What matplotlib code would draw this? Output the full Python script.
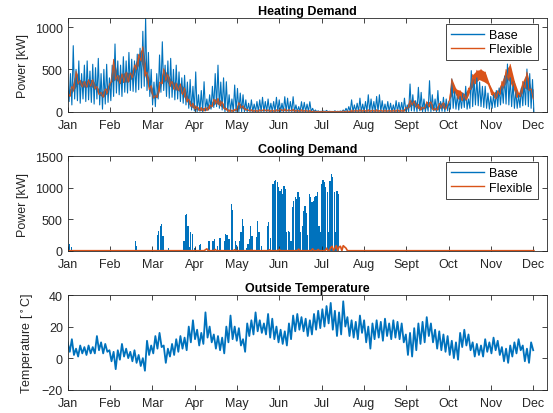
import numpy as np
import matplotlib
matplotlib.use('Agg')
import matplotlib.pyplot as plt
from matplotlib.lines import Line2D

plt.rcParams['font.family'] = ['Liberation Sans', 'DejaVu Sans']

# ---------------- data ----------------
months = ['Jan', 'Feb', 'Mar', 'Apr', 'May', 'Jun', 'Jul', 'Aug', 'Sept', 'Oct', 'Nov', 'Dec']

# Heating demand, Base: highs on even days, lows on odd days (kW), one row per month
base_step = 2.0
heat_base_hi = [300, 450, 780, 500, 600, 450, 550, 600, 480, 560, 520, 630, 450, 500, 560,
                400, 550, 800, 600, 550, 650, 600, 700, 620, 600, 680, 750, 950, 1100, 700,
                500, 350, 450, 670, 826, 550, 600, 630, 500, 550, 470, 400, 430, 350, 380,
                300, 470, 200, 250, 354, 150, 200, 300, 450, 550, 350, 400, 354, 200, 150,
                315, 275, 220, 200, 140, 100, 140, 90, 120, 140, 170, 120, 150, 100, 120,
                170, 140, 100, 177, 160, 120, 177, 80, 60, 118, 110, 90, 118, 40, 20,
                10, 5, 8, 15, 5, 3, 10, 5, 8, 20, 40, 60, 140, 80, 100,
                160, 90, 120, 200, 150, 120, 180, 200, 130, 90, 120, 100, 80, 130, 110,
                110, 160, 80, 327, 200, 130, 288, 228, 150, 100, 366, 200, 150, 250, 120,
                170, 150, 120, 386, 250, 200, 180, 220, 300, 150, 485, 380, 400, 350, 300,
                300, 220, 180, 200, 250, 280, 300, 420, 563, 400, 350, 250, 200, 280, 350,
                504, 450, 380]
heat_base_lo = [120, 80, 150, 130, 100, 150, 120, 140, 110, 90, 150, 80, 30, 90, 110,
                130, 180, 220, 200, 180, 230, 220, 250, 240, 230, 260, 280, 300, 250, 180,
                80, 60, 150, 230, 250, 180, 160, 170, 140, 150, 120, 100, 80, 40, 20,
                10, 0, 5, 0, 10, 20, 30, 50, 60, 40, 20, 0, 0, 5, 0,
                0, 0, 0, 0, 0, 0, 0, 0, 0, 0, 0, 0, 0, 0, 0,
                0, 0, 0, 0, 0, 0, 0, 0, 0, 0, 0, 0, 0, 0, 0,
                0, 0, 0, 0, 0, 0, 0, 0, 0, 0, 0, 0, 0, 0, 0,
                0, 0, 0, 0, 0, 0, 0, 0, 0, 0, 0, 0, 0, 0, 0,
                0, 5, 0, 10, 5, 0, 10, 0, 0, 5, 0, 10, 0, 0, 5,
                0, 10, 30, 40, 30, 20, 40, 50, 30, 40, 60, 80, 70, 60, 50,
                40, 30, 40, 50, 60, 80, 100, 90, 80, 60, 40, 40, 50, 70, 80,
                60, 40, 0]

# Heating demand, Flexible: upper / lower edge of the band every 3 days (kW)
band_step = 3.0
heat_flex_hi = [240, 300, 480, 370, 360, 380, 380, 300, 230, 270,
                330, 620, 430, 450, 470, 460, 550, 680, 770, 470,
                310, 190, 350, 510, 440, 360, 340, 330, 280, 150,
                100, 60, 50, 50, 80, 150, 160, 120, 40, 25,
                30, 110, 70, 30, 25, 20, 25, 30, 25, 20,
                25, 30, 35, 25, 30, 20, 25, 20, 15, 10,
                5, 5, 5, 5, 5, 5, 10, 10, 20, 20,
                25, 20, 25, 20, 25, 20, 20, 20, 20, 25,
                20, 50, 140, 130, 90, 50, 120, 120, 40, 100,
                110, 80, 390, 270, 250, 210, 280, 440, 490, 500,
                470, 330, 230, 250, 360, 500, 560, 360, 220, 360,
                470, 270]
heat_flex_lo = [180, 260, 330, 290, 290, 300, 270, 200, 170, 220,
                350, 380, 330, 350, 350, 400, 500, 600, 420, 260,
                160, 170, 330, 370, 300, 260, 250, 200, 120, 60,
                30, 15, 10, 20, 60, 100, 70, 30, 5, 5,
                20, 50, 20, 10, 5, 5, 10, 10, 5, 5,
                10, 10, 10, 10, 5, 5, 5, 5, 0, 0,
                0, 0, 0, 0, 0, 0, 0, 0, 5, 5,
                5, 5, 5, 5, 5, 5, 5, 5, 5, 5,
                5, 40, 80, 50, 20, 40, 60, 20, 20, 50,
                30, 150, 240, 150, 130, 140, 260, 330, 380, 360,
                330, 200, 150, 200, 300, 380, 300, 170, 180, 280,
                250, 150]

# Cooling demand, Base: daily peak (kW) on the days with cooling
cool_days = [1, 2, 37, 48, 49, 64, 65, 66, 67, 68, 72, 83, 84, 85, 86, 87, 88, 89, 91,
             94, 95, 101, 104, 105, 107, 109, 112, 113, 114, 115, 116, 117, 118, 120,
             121, 123, 124, 125, 126, 128, 129, 130, 131, 132, 135, 136, 137, 139, 143,
             144, 145, 147, 148, 149, 150, 151, 152, 153, 154, 155, 156, 157, 158, 159,
             160, 161, 162, 163, 164, 165, 166, 167, 168, 169, 170, 171, 172, 173, 174,
             175, 176, 177, 178, 179, 180, 181, 182, 183, 184, 185, 186, 187, 188, 189,
             190, 191, 192, 193, 194]
cool_base = [100, 60, 10, 160, 80, 250, 320, 400, 430, 240, 50, 160, 560, 580, 400, 60,
             290, 260, 50, 90, 110, 160, 150, 185, 80, 200, 150, 260, 250, 185, 180, 750,
             640, 160, 90, 160, 300, 500, 400, 50, 106, 185, 400, 240, 212, 477, 300, 80,
             400, 450, 200, 1060, 1113, 1130, 1087, 1007, 950, 980, 900, 1033, 980, 300,
             318, 290, 150, 700, 795, 848, 820, 927, 850, 300, 400, 636, 715, 600, 250,
             900, 848, 770, 795, 850, 875, 927, 400, 300, 1060, 1130, 1087, 1007, 927,
             300, 1113, 1219, 1166, 927, 300, 950, 900]

# Cooling demand, Flexible: small bumps (kW), zero elsewhere
cool_flex_days = [99, 100, 106, 120, 132, 145, 152, 166, 176, 180, 186, 189, 190, 192,
                  193, 195, 196, 198, 199, 200]
cool_flex_vals = [15, 30, 20, 15, 10, 15, 20, 25, 30, 20, 40, 50, 70, 40, 80, 60, 70, 80,
                  60, 40]
n_days = 336

# Outside temperature: highs / lows every 3 days (deg C)
temp_hi = [10, 12, 6, 8, 7, 8, 7, 14, 10, 9,
           5, 4, 5, 9, 6, 4, 5, 2, 0, 11,
           8, 14, 16, 8, 6, 9, 12, 14, 13, 20,
           24, 18, 16, 29, 20, 15, 14, 13, 20, 27,
           20, 19, 12, 22, 24, 29, 24, 22, 28, 25,
           20, 18, 17, 22, 27, 28, 26, 25, 24, 28,
           30, 31, 33, 35, 30, 29, 36, 26, 24, 23,
           27, 24, 20, 22, 24, 23, 25, 22, 24, 23,
           22, 15, 16, 19, 22, 23, 26, 22, 18, 17,
           15, 14, 11, 10, 16, 18, 15, 10, 9, 8,
           12, 10, 13, 11, 7, 6, 8, 10, 12, 8,
           6, 10]
temp_lo = [4, 2, 1, 3, 2, 3, 3, 5, 3, 4,
           -2, -7, -1, 1, 0, -2, -3, -5, -8, 2,
           3, 6, 7, -3, 1, 2, 4, 6, 5, 10,
           12, 8, 9, 13, 10, 6, 5, 3, 10, 12,
           11, 8, 4, 14, 15, 17, 16, 15, 13, 12,
           10, 9, 8, 12, 17, 18, 17, 14, 15, 18,
           19, 20, 22, 18, 14, 15, 20, 14, 13, 12,
           16, 10, 6, 12, 13, 11, 14, 12, 13, 12,
           10, 2, 1, 5, 9, 10, 14, 10, 6, 5,
           4, 2, 0, -1, 7, 8, 5, 1, 2, 1,
           4, 3, 5, 2, -2, -3, 1, 3, 5, -2,
           -3, 5]

# ---------------- helpers ----------------
def interleave(hi, lo, step):
    n = len(hi)
    t = np.empty(2 * n)
    v = np.empty(2 * n)
    t[0::2] = np.arange(n) * step
    t[1::2] = np.arange(n) * step + step / 2
    v[0::2] = hi
    v[1::2] = lo
    return t, v

def band(ax, hi, lo, step, color, lw):
    n = len(hi)
    th = np.arange(n) * step
    tl = th + step / 2
    grid = np.linspace(0, tl[-1], 1200)
    top = np.interp(grid, th, hi)
    bot = np.interp(grid, tl, lo)
    ax.fill_between(grid, np.minimum(top, bot), np.maximum(top, bot),
                    color=color, linewidth=0)
    t, v = interleave(hi, lo, step)
    ax.plot(t, v, color=color, lw=lw)

BLUE = '#0072BD'
ORANGE = '#D95319'
AXC = '#262626'
FS = 9

tick_pos = [k * 365 / 12 for k in range(12)]
x_max = 344.2

fig = plt.figure(figsize=(5.53, 4.14), dpi=100)
ax1 = fig.add_axes([0.1224, 0.7278, 0.8662, 0.2263])
ax2 = fig.add_axes([0.1224, 0.3920, 0.8662, 0.2280])
ax3 = fig.add_axes([0.1224, 0.0563, 0.8662, 0.2287])

def style(ax):
    ax.set_xlim(0, x_max)
    ax.set_xticks(tick_pos)
    ax.set_xticklabels(months)
    ax.tick_params(direction='in', top=True, right=True, length=3.5, width=0.6,
                   colors=AXC, labelsize=FS)
    ax.tick_params(axis='x', pad=5)
    for s in ax.spines.values():
        s.set_color(AXC)
        s.set_linewidth(0.6)

# Heating
t, v = interleave(heat_base_hi, heat_base_lo, base_step)
ax1.plot(t, v, color=BLUE, lw=0.8)
band(ax1, heat_flex_hi, heat_flex_lo, band_step, ORANGE, 0.6)
ax1.set_ylim(0, 1107)
ax1.set_yticks([0, 500, 1000])
ax1.set_ylabel('Power [kW]', fontsize=FS, color=AXC)
ax1.set_title('Heating Demand', fontsize=FS, fontweight='bold', pad=3)
style(ax1)

# Cooling
ax2.bar(np.array(cool_days) + 0.5, cool_base, width=0.9, color=BLUE, linewidth=0)
flex = np.zeros(n_days)
flex[cool_flex_days] = cool_flex_vals
ax2.plot(np.arange(n_days), flex, color=ORANGE, lw=1.2)
ax2.set_ylim(0, 1500)
ax2.set_yticks([0, 500, 1000, 1500])
ax2.set_ylabel('Power [kW]', fontsize=FS, color=AXC)
ax2.set_title('Cooling Demand', fontsize=FS, fontweight='bold', pad=3)
style(ax2)

# Temperature
t, v = interleave(temp_hi, temp_lo, band_step)
ax3.plot(t, v, color=BLUE, lw=1.3)
ax3.set_ylim(-20, 40)
ax3.set_yticks([-20, 0, 20, 40])
ax3.set_ylabel(r'Temperature [$^\circ$C]', fontsize=FS, color=AXC)
ax3.set_title('Outside Temperature', fontsize=FS, fontweight='bold', pad=3)
style(ax3)

handles = [Line2D([], [], color=BLUE, lw=1.0), Line2D([], [], color=ORANGE, lw=1.0)]
for ax in (ax1, ax2):
    leg = ax.legend(handles, ['Base', 'Flexible'], loc='upper right',
                    bbox_to_anchor=(0.9812, 0.936), borderaxespad=0,
                    fontsize=FS, fancybox=False, framealpha=1, edgecolor=AXC,
                    handlelength=2.6, handletextpad=0.45, borderpad=0.4,
                    labelspacing=0.2)
    leg.get_frame().set_linewidth(0.6)

fig.savefig('out.png', dpi=100)
